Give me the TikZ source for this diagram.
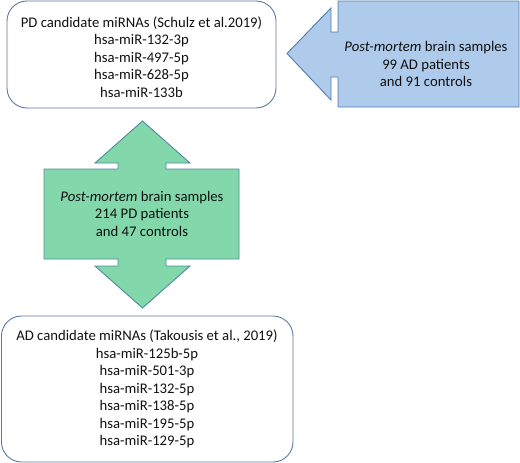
\documentclass[tikz,border=0pt]{standalone}
\usepackage{fontspec}
\setmainfont{Carlito}
\definecolor{boxline}{HTML}{5A7AA3}
\definecolor{bluefill}{HTML}{AFCBEB}
\definecolor{blueline}{HTML}{4F7DB5}
\definecolor{greenfill}{HTML}{82D8AA}
\definecolor{greenline}{HTML}{4F8AA3}
\definecolor{txt}{HTML}{111111}
\tikzset{
  roundbox/.style={draw=boxline, line width=0.9pt, rounded corners=20pt, fill=white},
  bluearrow/.style={draw=blueline, line width=0.9pt, fill=bluefill},
  greenarrow/.style={draw=greenline, line width=0.9pt, fill=greenfill},
  label/.style={align=center, text=txt, font=\fontsize{14.7}{17.5}\selectfont, inner sep=0pt}
}
\begin{document}
\begin{tikzpicture}[x=1pt,y=-1pt]
\useasboundingbox (0,0) rectangle (520,463);
% top box
\draw[roundbox] (7,1) rectangle (276,108);
\node[label] (pd) at (141.5,57) {PD candidate miRNAs (Schulz et al.2019)\\hsa-miR-132-3p\\hsa-miR-497-5p\\hsa-miR-628-5p\\hsa-miR-133b};
% blue left arrow callout
\draw[bluearrow] (338,1) -- (519,1) -- (519,107) -- (338,107) -- (338,77) -- (331,77) -- (331,100) -- (287,53.5) -- (331,8) -- (331,32) -- (338,32) -- cycle;
\node[label] (blue) at (426,64) {\textit{Post-mortem} brain samples\\99 AD patients\\and 91 controls};
% green up-down arrow callout
\draw[greenarrow] (142.5,121) -- (190,163) -- (166,163) -- (166,169) -- (239,169) -- (239,259) -- (166,259) -- (166,266) -- (190,266) -- (142.5,308) -- (95,266) -- (118,266) -- (118,259) -- (44,259) -- (44,169) -- (118,169) -- (118,163) -- (95,163) -- cycle;
\node[label] (green) at (142,213.5) {\textit{Post-mortem} brain samples\\214 PD patients\\and 47 controls};
% bottom box
\draw[roundbox] (1.5,316) rectangle (293,462);
\node[label] (ad) at (147,389) {AD candidate miRNAs (Takousis et al., 2019)\\hsa-miR-125b-5p\\hsa-miR-501-3p\\hsa-miR-132-5p\\hsa-miR-138-5p\\hsa-miR-195-5p\\hsa-miR-129-5p};
\end{tikzpicture}
\end{document}
